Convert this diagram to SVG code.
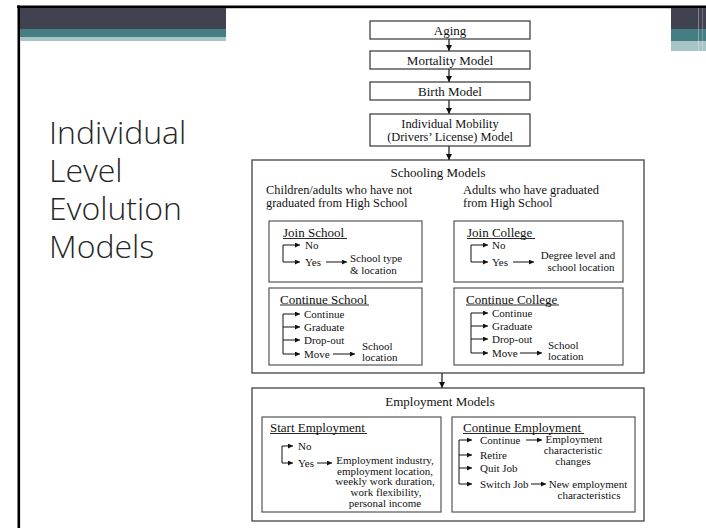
<svg xmlns="http://www.w3.org/2000/svg" width="706" height="528" viewBox="0 0 706 528">
  <defs>
    <marker id="ah" viewBox="0 0 10 10" refX="10" refY="5" markerWidth="7" markerHeight="6" markerUnits="userSpaceOnUse" orient="auto">
      <path d="M0,0 L10,5 L0,10 Z" fill="#111"/>
    </marker>
    <marker id="ahs" viewBox="0 0 10 10" refX="10" refY="5" markerWidth="6" markerHeight="5" markerUnits="userSpaceOnUse" orient="auto">
      <path d="M0,0 L10,5 L0,10 Z" fill="#111"/>
    </marker>
  </defs>
  <style>
    .box { fill: #fff; stroke: #333; stroke-width: 1.2; }
    .ibox { fill: #fff; stroke: #555; stroke-width: 1.2; }
    .t { font-family: "Liberation Serif", "Times New Roman", serif; fill: #111; dominant-baseline: central; }
    .h { font-size: 13px; }
    .h2 { font-size: 12.4px; }
    .s { font-size: 11px; }
    .mid { text-anchor: middle; }
    .u { stroke: #111; stroke-width: 0.9; }
    .ln { stroke: #111; stroke-width: 1; fill: none; }
    .arr { stroke: #111; stroke-width: 1; fill: none; marker-end: url(#ahs); }
    .varr { stroke: #111; stroke-width: 1.2; fill: none; marker-end: url(#ah); }
    .title { font-family: "Open Sans", "Noto Sans", sans-serif; font-weight: 300; font-size: 32px; fill: #262626; }
  </style>

  <!-- page background and frame -->
  <rect x="0" y="0" width="706" height="528" fill="#fff"/>
  <rect x="17" y="5.5" width="689" height="2.7" fill="#000"/>
  <rect x="17.5" y="5.5" width="2.6" height="523" fill="#000"/>

  <!-- header bands -->
  <rect x="20" y="8" width="206" height="21" fill="#41424f"/>
  <rect x="20" y="29" width="206" height="8" fill="#447e83"/>
  <rect x="20" y="37" width="206" height="4" fill="#a7c4c7"/>
  <rect x="671" y="8" width="35" height="21" fill="#41424f"/>
  <rect x="671" y="29" width="35" height="12" fill="#447e83"/>
  <rect x="671" y="41" width="35" height="10" fill="#a7c4c7"/>
  <rect x="698" y="8" width="1" height="43" fill="#fff" opacity="0.35"/>
  <rect x="702" y="8" width="1" height="43" fill="#fff" opacity="0.25"/>

  <!-- slide title -->
  <text class="title" x="49" y="144">Individual</text>
  <text class="title" x="49" y="182">Level</text>
  <text class="title" x="49" y="220">Evolution</text>
  <text class="title" x="49" y="258">Models</text>

  <!-- connectors -->
  <g id="connectors">
    <path class="varr" d="M449,39 V51"/>
    <path class="varr" d="M449,69 V82"/>
    <path class="varr" d="M449,100 V114"/>
    <path class="varr" d="M449,146 V160"/>
    <path class="varr" d="M442,373 V388"/>
  </g>

  <!-- top chain -->
  <g id="aging">
    <rect class="box" x="370" y="21" width="160" height="18"/>
    <text class="t h mid" x="450" y="30">Aging</text>
  </g>
  <g id="mortality">
    <rect class="box" x="370" y="51" width="160" height="18"/>
    <text class="t h mid" x="450" y="60">Mortality Model</text>
  </g>
  <g id="birth">
    <rect class="box" x="370" y="82" width="160" height="18"/>
    <text class="t h mid" x="450" y="91">Birth Model</text>
  </g>
  <g id="mobility">
    <rect class="box" x="370" y="114" width="160" height="32"/>
    <text class="t h2 mid" x="450" y="123.5">Individual Mobility</text>
    <text class="t h2 mid" x="450" y="137">(Drivers’ License) Model</text>
  </g>

  <!-- schooling -->
  <g id="schooling">
    <rect class="box" x="252" y="160" width="392" height="213"/>
    <text class="t h mid" x="438" y="172">Schooling Models</text>
    <text class="t h2" x="266" y="189.5">Children/adults who have not</text>
    <text class="t h2" x="266" y="203">graduated from High School</text>
    <text class="t h2" x="463" y="189.5">Adults who have graduated</text>
    <text class="t h2" x="463" y="203">from High School</text>
  </g>

  <g id="join-school">
    <rect class="ibox" x="269" y="221" width="153" height="61"/>
    <text class="t h" x="283" y="232">Join School</text>
    <line class="u" x1="283" y1="238.5" x2="347" y2="238.5"/>
    <path class="ln" d="M283,245 V262"/>
    <path class="arr" d="M283,245 H300"/>
    <path class="arr" d="M283,262 H300"/>
    <text class="t s" x="305" y="245">No</text>
    <text class="t s" x="305" y="262">Yes</text>
    <path class="arr" d="M326,262 H347"/>
    <text class="t s" x="350" y="258">School type</text>
    <text class="t s" x="350" y="270">&amp; location</text>
  </g>

  <g id="join-college">
    <rect class="ibox" x="454" y="221" width="169" height="61"/>
    <text class="t h" x="467" y="232">Join College</text>
    <line class="u" x1="467" y1="238.5" x2="535" y2="238.5"/>
    <path class="ln" d="M471,245 V262"/>
    <path class="arr" d="M471,245 H488"/>
    <path class="arr" d="M471,262 H488"/>
    <text class="t s" x="492" y="245">No</text>
    <text class="t s" x="492" y="262">Yes</text>
    <path class="arr" d="M513,262 H534"/>
    <text class="t s mid" x="578" y="255">Degree level and</text>
    <text class="t s mid" x="581" y="267">school location</text>
  </g>

  <g id="continue-school">
    <rect class="ibox" x="269" y="288" width="153" height="77"/>
    <text class="t h" x="280" y="299">Continue School</text>
    <line class="u" x1="280" y1="305" x2="369" y2="305"/>
    <path class="ln" d="M283,314 V354"/>
    <path class="arr" d="M283,314 H300"/>
    <path class="arr" d="M283,327 H300"/>
    <path class="arr" d="M283,340 H300"/>
    <path class="arr" d="M283,354 H300"/>
    <text class="t s" x="304" y="314">Continue</text>
    <text class="t s" x="304" y="327">Graduate</text>
    <text class="t s" x="304" y="340">Drop-out</text>
    <text class="t s" x="304" y="354">Move</text>
    <path class="arr" d="M333,354 H355"/>
    <text class="t s" x="362" y="346">School</text>
    <text class="t s" x="362" y="357">location</text>
  </g>

  <g id="continue-college">
    <rect class="ibox" x="454" y="288" width="169" height="77"/>
    <text class="t h" x="466" y="299">Continue College</text>
    <line class="u" x1="466" y1="305" x2="559" y2="305"/>
    <path class="ln" d="M471,313 V353"/>
    <path class="arr" d="M471,313 H488"/>
    <path class="arr" d="M471,326 H488"/>
    <path class="arr" d="M471,339 H488"/>
    <path class="arr" d="M471,353 H488"/>
    <text class="t s" x="492" y="313">Continue</text>
    <text class="t s" x="492" y="326">Graduate</text>
    <text class="t s" x="492" y="339">Drop-out</text>
    <text class="t s" x="492" y="353">Move</text>
    <path class="arr" d="M520,353 H542"/>
    <text class="t s" x="548" y="345">School</text>
    <text class="t s" x="548" y="356">location</text>
  </g>

  <!-- employment -->
  <g id="employment">
    <rect class="box" x="252" y="388" width="392" height="133"/>
    <text class="t h mid" x="440" y="401">Employment Models</text>
  </g>

  <g id="start-employment">
    <rect class="ibox" x="262" y="417" width="179" height="95"/>
    <text class="t h" x="270" y="427">Start Employment</text>
    <line class="u" x1="270" y1="433.5" x2="367" y2="433.5"/>
    <path class="ln" d="M282,446 V463"/>
    <path class="arr" d="M282,446 H293"/>
    <path class="arr" d="M282,463 H293"/>
    <text class="t s" x="298" y="446">No</text>
    <text class="t s" x="298" y="463">Yes</text>
    <path class="arr" d="M317,463 H332"/>
    <text class="t s mid" x="385" y="460">Employment industry,</text>
    <text class="t s mid" x="385" y="470.5">employment location,</text>
    <text class="t s mid" x="385" y="481">weekly work duration,</text>
    <text class="t s mid" x="386" y="492">work flexibility,</text>
    <text class="t s mid" x="385" y="503">personal income</text>
  </g>

  <g id="continue-employment">
    <rect class="ibox" x="452" y="417" width="183" height="95"/>
    <text class="t h" x="463" y="427">Continue Employment</text>
    <line class="u" x1="463" y1="433.5" x2="584" y2="433.5"/>
    <path class="ln" d="M459,440 V484"/>
    <path class="arr" d="M459,440 H472"/>
    <path class="arr" d="M459,455 H472"/>
    <path class="arr" d="M459,468 H472"/>
    <path class="arr" d="M459,484 H472"/>
    <text class="t s" x="480" y="440">Continue</text>
    <text class="t s" x="480" y="455">Retire</text>
    <text class="t s" x="480" y="468">Quit Job</text>
    <text class="t s" x="480" y="484">Switch Job</text>
    <path class="arr" d="M526,440 H542"/>
    <text class="t s mid" x="574" y="439">Employment</text>
    <text class="t s mid" x="573" y="450">characteristic</text>
    <text class="t s mid" x="573" y="461">changes</text>
    <path class="arr" d="M531,484 H546"/>
    <text class="t s mid" x="588" y="484">New employment</text>
    <text class="t s mid" x="589" y="495">characteristics</text>
  </g>
</svg>
